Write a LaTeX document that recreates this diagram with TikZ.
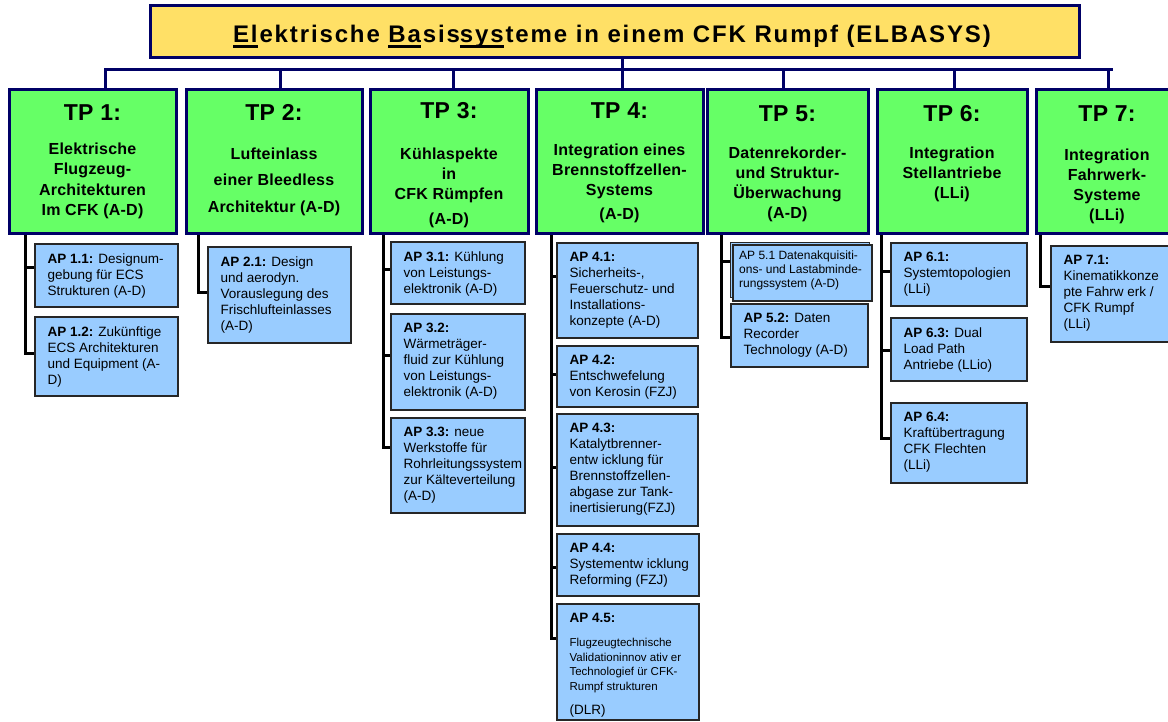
\documentclass[tikz,border=0pt]{standalone}
\usepackage{fontspec}
\setmainfont{Liberation Sans}
\newfontfamily\titlefont{Liberation Sans}[LetterSpace=7.8]
\newfontfamily\tpfont{Liberation Sans}[LetterSpace=1.5]
\usetikzlibrary{fit}
\definecolor{navy}{RGB}{0,0,102}
\definecolor{titlefill}{RGB}{255,224,102}
\definecolor{tpfill}{RGB}{102,255,102}
\definecolor{apfill}{RGB}{153,204,255}
\newcommand\ulpart[1]{\setbox0\hbox{#1}\rlap{\rule[-5.3pt]{\wd0}{3pt}}#1}
\tikzset{
  titlebox/.style={draw=navy, line width=3pt, fill=titlefill, inner sep=0pt},
  tpbox/.style={draw=navy, line width=3pt, fill=tpfill, inner sep=0pt},
  apbox/.style={draw=black!85, line width=1.3pt, fill=apfill, inner sep=0pt},
  bus/.style={draw=navy, line width=3pt},
  apline/.style={draw=black, line width=3pt},
  tphead/.style={font=\tpfont\bfseries\fontsize{23}{26}\selectfont, inner sep=0pt, anchor=base},
  tpbody/.style={font=\tpfont\bfseries\fontsize{16}{20}\selectfont, inner sep=0pt, align=center, anchor=north},
  aptext/.style={font=\fontsize{13.5}{16}\selectfont, inner sep=0pt, align=left, anchor=north west},
}
\newcommand\apbox[6]{%
  \coordinate (#1-nw) at (#2,#3);
  \coordinate (#1-se) at (#4,#5);
  \node[apbox, fit=(#1-nw)(#1-se)] (#1) {};
  \node[aptext] (#1-text) at ([shift={(13pt,-10pt)}]#1.north west) {#6};
}
\begin{document}
\begin{tikzpicture}[x=1pt,y=-1pt]
\useasboundingbox (0,0) rectangle (1168,722);
\clip (0,0) rectangle (1168,722);
\fill[white] (0,0) rectangle (1168,722);

% title
\coordinate (ti-nw) at (150,6);
\coordinate (ti-se) at (1079,58);
\node[titlebox, fit=(ti-nw)(ti-se)] (title) {};
\node[inner sep=0pt, anchor=base, font=\titlefont\bfseries\fontsize{24}{28}\selectfont] (title-text) at (612,43)
  {\ulpart{El}ektrische \ulpart{Ba}sis\ulpart{sys}teme in einem CFK Rumpf (ELBASYS)};

% TP boxes
\coordinate (tp1-nw) at (9,90);    \coordinate (tp1-se) at (176,234);
\coordinate (tp2-nw) at (186,90);  \coordinate (tp2-se) at (362,234);
\coordinate (tp3-nw) at (370,90);  \coordinate (tp3-se) at (528,234);
\coordinate (tp4-nw) at (536,90);  \coordinate (tp4-se) at (703,234);
\coordinate (tp5-nw) at (707,90);  \coordinate (tp5-se) at (868,234);
\coordinate (tp6-nw) at (877,90);  \coordinate (tp6-se) at (1027,234);
\coordinate (tp7-nw) at (1036,90); \coordinate (tp7-se) at (1178,234);
\foreach \i in {1,...,7}{\node[tpbox, fit=(tp\i-nw)(tp\i-se)] (tp\i) {};}

\node[tphead] (tp1-head) at (92.5,121) {TP 1:};
\node[tphead] (tp2-head) at (274,121) {TP 2:};
\node[tphead] (tp3-head) at (449,119) {TP 3:};
\node[tphead] (tp4-head) at (619.5,119) {TP 4:};
\node[tphead] (tp5-head) at (787.5,122) {TP 5:};
\node[tphead] (tp6-head) at (952,122) {TP 6:};
\node[tphead] (tp7-head) at (1107,122) {TP 7:};

\node[tpbody, font=\tpfont\bfseries\fontsize{16}{20.5}\selectfont] (tp1-body) at (92.5,142.5) {Elektrische\\Flugzeug-\\Architekturen\\Im CFK (A-D)};
\node[tpbody, font=\tpfont\bfseries\fontsize{16}{26.5}\selectfont] (tp2-body) at (274,147.5) {Lufteinlass\\einer Bleedless\\Architektur (A-D)};
\node[tpbody] (tp3-body) at (449,147.5) {Kühlaspekte\\in\\CFK Rümpfen\\[5pt](A-D)};
\node[tpbody] (tp4-body) at (619.5,143.5) {Integration eines\\Brennstoffzellen-\\Systems\\[4pt](A-D)};
\node[tpbody] (tp5-body) at (787.5,146.5) {Datenrekorder-\\und Struktur-\\Überwachung\\(A-D)};
\node[tpbody] (tp6-body) at (952,146.5) {Integration\\Stellantriebe\\(LLi)};
\node[tpbody] (tp7-body) at (1107,148.5) {Integration\\Fahrwerk-\\Systeme\\(LLi)};

% bus
\coordinate (d0) at (622,70);
\coordinate (d1) at (105,70);
\coordinate (d2) at (280,70);
\coordinate (d3) at (453,70);
\coordinate (d4) at (622,70);
\coordinate (d5) at (783,70);
\coordinate (d6) at (954,70);
\coordinate (d7) at (1108,70);
\coordinate (dend) at (1113,70);
\draw[bus] (d0 |- title.south) -- (d0);
\draw[bus] (d1 |- tp1.north) -- (d1) -- (dend);
\foreach \i in {2,...,7}{\draw[bus] (d\i) -- (d\i |- tp\i.north);}

% AP stubs
\coordinate (s11) at (25,268);  \coordinate (s12) at (25,353);
\coordinate (s21) at (198,293);
\coordinate (s31) at (383,270); \coordinate (s32) at (383,355); \coordinate (s33) at (383,447);
\coordinate (s41) at (551,277); \coordinate (s42) at (551,374); \coordinate (s43) at (551,467);
\coordinate (s44) at (551,567); \coordinate (s45) at (551,638);
\coordinate (s51) at (721,262); \coordinate (s52) at (721,337);
\coordinate (s61) at (881,272); \coordinate (s63) at (881,350); \coordinate (s64) at (881,438);
\coordinate (s71) at (1040,287);

% AP boxes
\apbox{ap11}{35}{244}{178}{307}{\textbf{AP 1.1:} Designum-\\gebung für ECS\\Strukturen (A-D)}
\apbox{ap12}{35}{317}{178}{396}{\textbf{AP 1.2:} Zukünftige\\ECS Architekturen\\und Equipment (A-\\D)}
\apbox{ap21}{208}{247}{351}{343}{\textbf{AP 2.1:} Design\\und aerodyn.\\Vorauslegung des\\Frischlufteinlasses\\(A-D)}
\apbox{ap31}{391}{242}{525}{304}{\textbf{AP 3.1:} Kühlung\\von Leistungs-\\elektronik (A-D)}
\apbox{ap32}{391}{314}{525}{410}{\textbf{AP 3.2:}\\Wärmeträger-\\fluid zur Kühlung\\von Leistungs-\\elektronik (A-D)}
\apbox{ap33}{391}{418}{525}{513}{\textbf{AP 3.3:} neue\\Werkstoffe für\\Rohrleitungssystem\\zur Kälteverteilung\\(A-D)}
\apbox{ap41}{557}{243}{698}{338}{\textbf{AP 4.1:}\\Sicherheits-,\\Feuerschutz- und\\Installations-\\konzepte (A-D)}
\apbox{ap42}{557}{346}{698}{407}{\textbf{AP 4.2:}\\Entschwefelung\\von Kerosin (FZJ)}
\apbox{ap43}{557}{414}{698}{526}{\textbf{AP 4.3:}\\Katalytbrenner-\\entw icklung für\\Brennstoffzellen-\\abgase zur Tank-\\inertisierung(FZJ)}
\apbox{ap44}{557}{534}{699}{596}{\textbf{AP 4.4:}\\Systementw icklung\\Reforming (FZJ)}
\apbox{ap45}{557}{604}{699}{720}{\textbf{AP 4.5:}\\[8pt]{\fontsize{11.5}{14.5}\selectfont Flugzeugtechnische}\\[-1.5pt]{\fontsize{11.5}{14.5}\selectfont Validationinnov ativ er}\\[-1.5pt]{\fontsize{11.5}{14.5}\selectfont Technologief ür CFK-}\\[-1.5pt]{\fontsize{11.5}{14.5}\selectfont Rumpf strukturen}\\[8pt](DLR)}
\coordinate (ap51b-nw) at (730,243); \coordinate (ap51b-se) at (869,298);
\node[apbox, line width=1pt, fit=(ap51b-nw)(ap51b-se)] (ap51b) {};
\coordinate (ap51-nw) at (733,245); \coordinate (ap51-se) at (872,301);
\node[apbox, line width=1.6pt, fit=(ap51-nw)(ap51-se)] (ap51) {};
\node[aptext, font=\fontsize{12}{13.7}\selectfont] (ap51-text) at (739,251) {AP 5.1 Datenakquisiti-\\ons- und Lastabminde-\\rungssystem (A-D)};
\apbox{ap52}{731}{304}{868}{367}{\textbf{AP 5.2:} Daten\\Recorder\\Technology (A-D)}
\apbox{ap61}{891}{243}{1027}{306}{\textbf{AP 6.1:}\\Systemtopologien\\(LLi)}
\apbox{ap63}{891}{318}{1027}{381}{\textbf{AP 6.3:} Dual\\Load Path\\Antriebe (LLio)}
\apbox{ap64}{891}{403}{1027}{483}{\textbf{AP 6.4:}\\Kraftübertragung\\CFK Flechten\\(LLi)}
\apbox{ap71}{1051}{246}{1178}{342}{\textbf{AP 7.1:}\\Kinematikkonze\\pte Fahrw erk /\\CFK Rumpf\\(LLi)}

% AP connectors
\draw[apline] (s11 |- tp1.south) -- (s12) -- (s12 -| ap12.west);
\draw[apline] (s11) -- (s11 -| ap11.west);
\draw[apline] (s21 |- tp2.south) -- (s21) -- (s21 -| ap21.west);
\draw[apline] (s31 |- tp3.south) -- (s33) -- (s33 -| ap33.west);
\foreach \i in {1,2}{\draw[apline] (s3\i) -- (s3\i -| ap3\i.west);}
\draw[apline] (s41 |- tp4.south) -- (s45) -- (s45 -| ap45.west);
\foreach \i in {1,...,4}{\draw[apline] (s4\i) -- (s4\i -| ap4\i.west);}
\draw[apline] (s51 |- tp5.south) -- (s52) -- (s52 -| ap52.west);
\draw[apline] (s51) -- (s51 -| ap51b.west);
\draw[apline] (s61 |- tp6.south) -- (s64) -- (s64 -| ap64.west);
\foreach \i in {1,3}{\draw[apline] (s6\i) -- (s6\i -| ap6\i.west);}
\draw[apline] (s71 |- tp7.south) -- (s71) -- (s71 -| ap71.west);
\end{tikzpicture}
\end{document}
